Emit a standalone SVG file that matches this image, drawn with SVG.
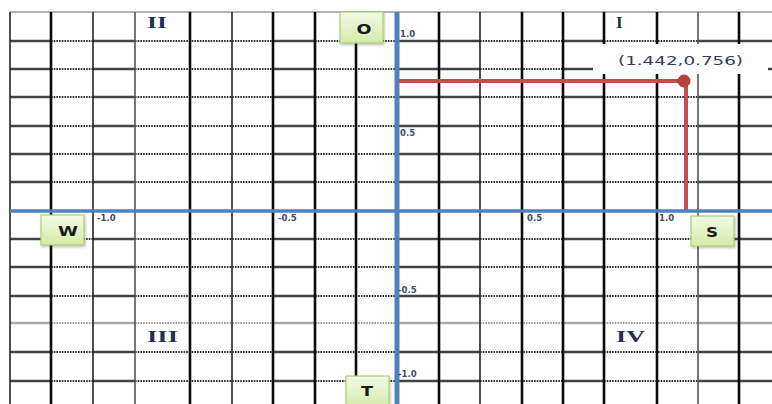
<svg xmlns="http://www.w3.org/2000/svg" xmlns:xlink="http://www.w3.org/1999/xlink" width="772" height="404" viewBox="0 0 772 404">
<style>
.hs{fill:none;stroke:#444;stroke-width:2.4}
.hd{fill:none;stroke:#2e2e2e;stroke-width:2.2;stroke-dasharray:1.6 1.1}
.vk{stroke:#0a0a0a;stroke-width:2.6}
.vt{stroke:#222;stroke-width:1.6}
.vg{stroke:#555;stroke-width:1.6}
.ax{stroke:#4f81bd;fill:none}
.lbl{font-family:"DejaVu Sans",sans-serif;font-size:8.5px;font-weight:bold;fill:#3d4a6a}
.q{font-family:"Liberation Serif",serif;font-size:17px;font-weight:bold;fill:#1f3050}
.box{fill:url(#gg);stroke:#a8cf78;stroke-width:1.2}
.nt{font-family:"DejaVu Sans",sans-serif;font-size:14px;font-weight:bold;fill:#1a1a1a;text-anchor:middle}
</style>
<defs>
<linearGradient id="gg" x1="0" y1="0" x2="0" y2="1">
<stop offset="0" stop-color="#f4fae4"/>
<stop offset="1" stop-color="#d5eba9"/>
</linearGradient>
<filter id="sh" x="-20%" y="-20%" width="140%" height="150%">
<feDropShadow dx="1" dy="1.5" stdDeviation="1" flood-color="#000" flood-opacity="0.25"/>
</filter>
<path id="rs" d="M10 0H51M93 0H135M273 0H315M397 0H480M563 0H604M698 0H772"/>
<path id="rd" d="M51 0H93M135 0H273M315 0H397M480 0H563M604 0H698"/>
</defs>
<rect width="772" height="404" fill="#fff"/>
<g id="grid">
<line x1="10" y1="12" x2="772" y2="12" stroke="#9a9a9a" stroke-width="1.6"/>
<g class="hs">
<use xlink:href="#rs" y="41"/><use xlink:href="#rs" y="69"/><use xlink:href="#rs" y="97"/><use xlink:href="#rs" y="126"/>
<use xlink:href="#rs" y="154"/><use xlink:href="#rs" y="182"/><use xlink:href="#rs" y="239"/><use xlink:href="#rs" y="267"/>
<use xlink:href="#rs" y="296"/><use xlink:href="#rs" y="323" style="stroke:#aaa"/><use xlink:href="#rs" y="352"/><use xlink:href="#rs" y="381"/>
</g>
<g class="hd">
<use xlink:href="#rd" y="41"/><use xlink:href="#rd" y="69"/><use xlink:href="#rd" y="97"/><use xlink:href="#rd" y="126"/>
<use xlink:href="#rd" y="154"/><use xlink:href="#rd" y="182"/><use xlink:href="#rd" y="239"/><use xlink:href="#rd" y="267"/>
<use xlink:href="#rd" y="296"/><use xlink:href="#rd" y="323" style="stroke:#999"/><use xlink:href="#rd" y="352"/><use xlink:href="#rd" y="381"/>
</g>
<line class="vt" x1="10" y1="12" x2="10" y2="404"/>
<line class="vk" x1="51" y1="12" x2="51" y2="404"/>
<line class="vt" x1="93" y1="12" x2="93" y2="404"/>
<line class="vg" x1="135" y1="12" x2="135" y2="404"/>
<line class="vk" x1="190" y1="12" x2="190" y2="404"/>
<line class="vt" x1="232" y1="12" x2="232" y2="404"/>
<line class="vk" x1="273" y1="12" x2="273" y2="404"/>
<line class="vk" x1="315" y1="12" x2="315" y2="404"/>
<line class="vk" x1="356" y1="12" x2="356" y2="404"/>
<line class="vk" x1="439" y1="12" x2="439" y2="404"/>
<line class="vt" x1="480" y1="12" x2="480" y2="404"/>
<line class="vk" x1="522" y1="12" x2="522" y2="404"/>
<line class="vk" x1="563" y1="12" x2="563" y2="404"/>
<line class="vk" x1="604" y1="12" x2="604" y2="404"/>
<line class="vk" x1="657" y1="12" x2="657" y2="404"/>
<line class="vg" x1="698" y1="12" x2="698" y2="404"/>
<line class="vk" x1="739" y1="12" x2="739" y2="404"/>
</g>
<rect x="593" y="44" width="175" height="30" fill="#fff"/>
<g id="connectors">
<path d="M398 81H686V211" fill="none" stroke="#c0504d" stroke-width="4"/>
<circle cx="684" cy="81" r="6" fill="#b5413e" stroke="#a33b38" stroke-width="1"/>
</g>
<g id="axes">
<line class="ax" x1="10" y1="211" x2="772" y2="211" stroke-width="3.5"/>
<line class="ax" x1="397" y1="12" x2="397" y2="404" stroke-width="5"/>
</g>
<text x="618" y="65" font-family="DejaVu Sans,sans-serif" font-size="13" fill="#2e3d5e" textLength="125" lengthAdjust="spacingAndGlyphs">(1.442,0.756)</text>
<g id="ticks">
<text class="lbl" x="400" y="37">1.0</text>
<text class="lbl" x="400" y="136">0.5</text>
<text class="lbl" x="398" y="293">-0.5</text>
<text class="lbl" x="398" y="377">-1.0</text>
<text class="lbl" x="97" y="221">-1.0</text>
<text class="lbl" x="278" y="221">-0.5</text>
<text class="lbl" x="527" y="221">0.5</text>
<text class="lbl" x="659" y="221">1.0</text>
</g>
<g id="quadrants">
<text class="q" x="147" y="28" textLength="20" lengthAdjust="spacingAndGlyphs">II</text>
<text class="q" x="616" y="28">I</text>
<text class="q" x="147" y="342" textLength="31" lengthAdjust="spacingAndGlyphs">III</text>
<text class="q" x="616" y="342" textLength="29" lengthAdjust="spacingAndGlyphs">IV</text>
</g>
<g id="node-O"><rect class="box" filter="url(#sh)" x="340" y="12" width="43" height="31"/><text class="nt" x="364" y="34" textLength="15" lengthAdjust="spacingAndGlyphs">O</text></g>
<g id="node-W"><rect class="box" filter="url(#sh)" x="41" y="215" width="43" height="30"/><text class="nt" x="68" y="236" textLength="20" lengthAdjust="spacingAndGlyphs">W</text></g>
<g id="node-S"><rect class="box" filter="url(#sh)" x="691" y="216" width="43" height="30"/><text class="nt" x="712" y="237" textLength="12" lengthAdjust="spacingAndGlyphs">S</text></g>
<g id="node-T"><rect class="box" filter="url(#sh)" x="346" y="376" width="43" height="32"/><text class="nt" x="367" y="396" textLength="12" lengthAdjust="spacingAndGlyphs">T</text></g>
</svg>
